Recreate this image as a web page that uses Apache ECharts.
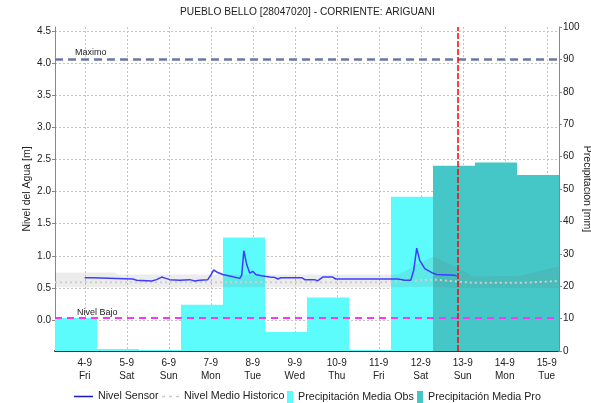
<!DOCTYPE html>
<html>
<head>
<meta charset="utf-8">
<script src="https://cdn.jsdelivr.net/npm/echarts@6/dist/echarts.min.js"></script>
<style>html,body{margin:0;padding:0;background:#fff;}#c{width:591px;height:403px;}</style>
</head>
<body>
<div id="c"></div>
<script>
// ---- data ----
const dayLabels = ['4-9','5-9','6-9','7-9','8-9','9-9','10-9','11-9','12-9','13-9','14-9','15-9'];
const weekDays = ['Fri','Sat','Sun','Mon','Tue','Wed','Thu','Fri','Sat','Sun','Mon','Tue'];
const dayTickHours = [0,24,48,72,96,120,144,168,192,216,240,264];
const levelTicks = [0,0.5,1,1.5,2,2.5,3,3.5,4,4.5];

const precipObs = [10.2, 0.6, 0.3, 14.3, 35.0, 5.9, 16.5, 0.3, 47.6, null, null, null];
const precipPro = [null, null, null, null, null, null, null, null, null, 57.2, 58.2, 54.3];

// hours since 4-9 00:00
const sensorHours = [0,4.6,5.7,27.4,29.7,38.3,41,44,46.3,48.6,54.3,60,62.9,65.7,70.3,72,73.7,76,78.9,84,88.6,89.7,90.9,92.6,94.3,96,97.7,101,105.7,108.6,110.3,112,124,125.7,131.4,133,136,141.7,143.4,178.9,182.9,186.3,188,189.7,191.4,194.3,198.3,201,211.4,212.6];
const sensorLevel = [0.66,0.66,0.64,0.64,0.62,0.61,0.63,0.67,0.65,0.63,0.62,0.63,0.61,0.62,0.63,0.70,0.78,0.74,0.71,0.68,0.65,0.70,1.08,0.86,0.73,0.76,0.71,0.69,0.67,0.665,0.64,0.66,0.66,0.63,0.63,0.61,0.67,0.67,0.64,0.64,0.62,0.62,0.78,1.12,0.93,0.80,0.74,0.71,0.70,0.685];

const medianHours = [-17,170,185,200,213,222,250,271];
const medianLevel = [0.59,0.59,0.61,0.63,0.60,0.58,0.58,0.61];

const bandHours = [-17,17,19,179,199,213,222,249,271];
const bandLow  = [0.51,0.51,0.51,0.51,0.52,0.50,0.50,0.50,0.50];
const bandHigh = [0.74,0.74,0.71,0.71,0.99,0.81,0.68,0.69,0.84];

const levelMax = 4.06;
const levelLow = 0.03;
const nowHour = 213.3;

// ---- chart ----
const FONT = 'Liberation Sans, Arial, sans-serif';
const chart = echarts.init(document.getElementById('c'), null, {renderer:'canvas'});
const pairs = (xs, ys) => xs.map((x,i)=>[x, ys[i]]);

const gridLine = {show:true, lineStyle:{color:'#c4c4c4', type:[2,2], width:1}};
const legendText = {fontSize:10.7, color:'#222', fontFamily:FONT};

chart.setOption({
  animation:false,
  backgroundColor:'#fff',
  textStyle:{fontFamily:FONT},
  title:{
    text:'PUEBLO BELLO [28047020] - CORRIENTE: ARIGUANI',
    left:180, top:7, padding:0,
    textStyle:{fontSize:10.2, fontWeight:'normal', color:'#222', fontFamily:FONT}
  },
  grid:{left:55, right:32, top:27, bottom:52, containLabel:false, outerBoundsMode:'none'},
  legend:[
    {left:74, top:391, padding:0, itemWidth:19, itemHeight:12, textStyle:legendText,
     data:[{name:'Nivel Sensor', icon:'path://M0 0H20V1.6H0Z', itemStyle:{color:'#1a1ad0'}}]},
    {left:162, top:391, padding:0, itemWidth:17, itemHeight:12, textStyle:legendText,
     data:[{name:'Nivel Medio Historico', icon:'path://M0 0H3V1.6H0ZM7 0H10V1.6H7ZM14 0H17V1.6H14Z', itemStyle:{color:'#c8c8c8'}}]},
    {left:287, top:391, padding:0, itemWidth:6, itemHeight:13, icon:'rect', textStyle:legendText,
     data:['Precipitación Media Obs']},
    {left:417, top:391, padding:0, itemWidth:6, itemHeight:13, icon:'rect', textStyle:legendText,
     data:['Precipitación Media Pro']}
  ],
  xAxis:[
    {type:'value', min:-17, max:271, position:'bottom',
     axisLine:{show:true, onZero:false, lineStyle:{color:'#333', type:[1,1], width:2}},
     axisTick:{show:false, customValues:dayTickHours},
     axisLabel:{customValues:dayTickHours, fontSize:10, color:'#222', lineHeight:13, margin:6,
       formatter:(v)=>{const i=Math.round(v/24); return dayLabels[i]+'\n'+weekDays[i];}},
     splitLine:gridLine},
    {type:'category', data:dayLabels, boundaryGap:true, show:false, axisLine:{onZero:false}}
  ],
  yAxis:[
    {type:'value', min:-0.48, max:4.56, position:'left',
     name:'Nivel del Agua [m]', nameLocation:'middle', nameGap:22, nameMoveOverlap:false,
     nameTextStyle:{fontSize:10.5, color:'#222'},
     axisLine:{show:true, onZero:false, lineStyle:{color:'#888'}},
     axisTick:{show:true, length:3, customValues:levelTicks, lineStyle:{color:'#888'}},
     axisLabel:{customValues:levelTicks, fontSize:10, color:'#222', margin:4,
       formatter:(v)=>v.toFixed(1)},
     splitLine:gridLine},
    {type:'value', min:0, max:100, interval:10, position:'right',
     name:'Precipitación [mm]', nameLocation:'middle', nameGap:22, nameRotate:-90, nameMoveOverlap:false,
     nameTextStyle:{fontSize:10.5, color:'#222'},
     axisLine:{show:true, onZero:false, lineStyle:{color:'#888'}},
     axisTick:{show:true, length:3, lineStyle:{color:'#888'}},
     axisLabel:{fontSize:10, color:'#222', margin:4},
     splitLine:{show:false}}
  ],
  series:[
    {name:'Precipitación Media Obs', type:'bar', xAxisIndex:1, yAxisIndex:1,
     data:precipObs, barWidth:'100%', barGap:'-100%', itemStyle:{color:'#5cfcfc'}, z:1},
    {name:'Precipitación Media Pro', type:'bar', xAxisIndex:1, yAxisIndex:1,
     data:precipPro, barWidth:'100%', barGap:'-100%', itemStyle:{color:'#46c7c7'}, z:1},
    {name:'band', type:'custom', xAxisIndex:0, yAxisIndex:0, silent:true, z:2,
     data:bandHours.map((h,i)=>[h, bandLow[i], bandHigh[i]]),
     renderItem:(params, api)=>{
       if (params.dataIndex !== 0) return null;
       const top = bandHours.map((h,i)=>api.coord([h, bandHigh[i]]));
       const bot = bandHours.map((h,i)=>api.coord([h, bandLow[i]])).reverse();
       return {type:'polygon', shape:{points:top.concat(bot)},
               style:{fill:'rgba(110,110,110,0.13)'}};
     }},
    {name:'Nivel Medio Historico', type:'line', xAxisIndex:0, yAxisIndex:0, symbol:'none',
     data:pairs(medianHours, medianLevel), itemStyle:{color:'#c8c8c8'},
     lineStyle:{color:'#cfcfcf', width:2, type:[2,3]}, z:3,
     markLine:{silent:true, symbol:'none', animation:false, z:10,
       lineStyle:{color:'#ff0000', width:1.5, type:[6,2], opacity:1},
       label:{show:false},
       data:[{xAxis:nowHour}]}},
    {name:'Nivel Sensor', type:'line', xAxisIndex:0, yAxisIndex:0, symbol:'none',
     data:pairs(sensorHours, sensorLevel), itemStyle:{color:'#1f1fe0'},
     lineStyle:{color:'#3d3dff', width:1.5}, z:4,
     markLine:{silent:true, symbol:'none', animation:false,
       data:[
         {yAxis:levelMax, lineStyle:{color:'#6b78a6', width:2.5, type:[8,5]},
          label:{show:true, formatter:'Maximo', position:'insideStartTop', distance:[20,2], fontSize:9, color:'#222'}},
         {yAxis:levelLow, lineStyle:{color:'#ff33ff', width:2, type:[7,5]},
          label:{show:true, formatter:'Nivel Bajo', position:'insideStartTop', distance:[22,1], fontSize:9, color:'#222'}}
       ]}}
  ]
});
</script>
</body>
</html>
